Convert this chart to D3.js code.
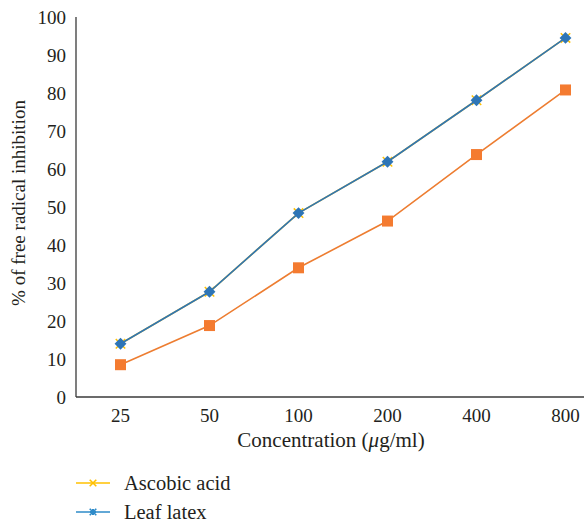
<!DOCTYPE html>
<html>
<head>
<meta charset="utf-8">
<script src="https://cdn.jsdelivr.net/npm/d3@7"></script>
<style>
  body { margin: 0; background: #fff; }
  text { font-family: "Liberation Serif", "DejaVu Serif", serif; fill: #231f20; }
</style>
</head>
<body>
<svg id="plotarea" width="584" height="522"></svg>
<script>
var concentrations = ["25", "50", "100", "200", "400", "800"];
var ascobicAcid = [14, 27.7, 48.4, 61.9, 78.1, 94.5];
var leafLatex = [14, 27.7, 48.4, 61.9, 78.1, 94.5];
var thirdSeries = [8.5, 18.8, 34, 46.3, 63.8, 80.8];
var yTicks = [0, 10, 20, 30, 40, 50, 60, 70, 80, 90, 100];

var svg = d3.select("#plotarea");

var x = d3.scaleBand().domain(concentrations).range([76, 610]);
var y = d3.scaleLinear().domain([0, 100]).range([397, 17]);

// axes
svg.append("line")
    .attr("x1", 76).attr("x2", 76)
    .attr("y1", y(100)).attr("y2", y(0))
    .attr("stroke", "#3a3a3a").attr("stroke-width", 1.3);
svg.append("line")
    .attr("x1", 76).attr("x2", 610)
    .attr("y1", y(0)).attr("y2", y(0))
    .attr("stroke", "#3a3a3a").attr("stroke-width", 1.3);

svg.selectAll(".ytick")
    .data(yTicks)
    .enter().append("text")
    .attr("class", "ytick")
    .attr("x", 66)
    .attr("y", function(d) { return y(d); })
    .attr("dy", "0.35em")
    .attr("text-anchor", "end")
    .style("font-size", "19px")
    .text(function(d) { return d; });

svg.selectAll(".xtick")
    .data(concentrations)
    .enter().append("text")
    .attr("class", "xtick")
    .attr("x", function(d) { return x(d) + x.bandwidth() / 2; })
    .attr("y", 422)
    .attr("text-anchor", "middle")
    .style("font-size", "19px")
    .text(function(d) { return d; });

var xt = svg.append("text")
    .attr("x", 331).attr("y", 447)
    .attr("text-anchor", "middle")
    .style("font-size", "21px");
xt.append("tspan").text("Concentration (");
xt.append("tspan").style("font-style", "italic").text("μ");
xt.append("tspan").text("g/ml)");

svg.append("text")
    .attr("transform", "translate(25,203) rotate(-90)")
    .attr("text-anchor", "middle")
    .style("font-size", "19px")
    .text("% of free radical inhibition");

var line = d3.line()
    .x(function(d, i) { return x(concentrations[i]) + x.bandwidth() / 2; })
    .y(function(d) { return y(d); });

// orange series with squares
svg.append("path")
    .datum(thirdSeries)
    .attr("d", line)
    .attr("fill", "none")
    .attr("stroke", "#ED7D31")
    .attr("stroke-width", 1.6);
svg.selectAll(".sq")
    .data(thirdSeries)
    .enter().append("rect")
    .attr("class", "sq")
    .attr("x", function(d, i) { return x(concentrations[i]) + x.bandwidth() / 2 - 5.5; })
    .attr("y", function(d) { return y(d) - 5.5; })
    .attr("width", 11).attr("height", 11)
    .attr("fill", "#F47B30");

// ascobic acid (yellow, underneath)
svg.append("path")
    .datum(ascobicAcid)
    .attr("d", line)
    .attr("fill", "none")
    .attr("stroke", "#FFC000")
    .attr("stroke-width", 1.6);
var cross = d3.symbol().type(d3.symbolX).size(60);
svg.selectAll(".ax")
    .data(ascobicAcid)
    .enter().append("path")
    .attr("class", "ax")
    .attr("d", cross)
    .attr("transform", function(d, i) { return "translate(" + (x(concentrations[i]) + x.bandwidth() / 2) + "," + y(d) + ")"; })
    .attr("stroke", "#FFC000")
    .attr("stroke-width", 1.5)
    .attr("fill", "none");

// leaf latex (blue)
svg.append("path")
    .datum(leafLatex)
    .attr("d", line)
    .attr("fill", "none")
    .attr("stroke", "#2E75B6")
    .attr("stroke-width", 1.6);
var diamond = d3.symbol().type(d3.symbolDiamond2).size(90);
svg.selectAll(".lx")
    .data(leafLatex)
    .enter().append("path")
    .attr("class", "lx")
    .attr("d", diamond)
    .attr("transform", function(d, i) { return "translate(" + (x(concentrations[i]) + x.bandwidth() / 2) + "," + y(d) + ")"; })
    .attr("fill", "#2E75B6");

// legend
var legend = [
    {name: "Ascobic acid", color: "#FFC000", y: 483},
    {name: "Leaf latex", color: "#2E8BC9", y: 512}
];
var lg = svg.selectAll(".legend")
    .data(legend)
    .enter().append("g")
    .attr("class", "legend")
    .attr("transform", function(d) { return "translate(0," + d.y + ")"; });
lg.append("line")
    .attr("x1", 76).attr("x2", 110)
    .attr("stroke", function(d) { return d.color; })
    .attr("stroke-width", 1.5);
lg.append("path")
    .attr("d", d3.symbol().type(d3.symbolX).size(30))
    .attr("transform", "translate(93,0)")
    .attr("stroke", function(d) { return d.color; })
    .attr("stroke-width", 1.6);
lg.append("path")
    .attr("d", d3.symbol().type(d3.symbolCross).size(20))
    .attr("transform", "translate(93,0)")
    .attr("fill", function(d) { return d.color; })
    .attr("opacity", function(d, i) { return i == 1 ? 1 : 0; });
lg.append("text")
    .attr("x", 124)
    .attr("dy", "0.35em")
    .style("font-size", "20.5px")
    .text(function(d) { return d.name; });
</script>
</body>
</html>
